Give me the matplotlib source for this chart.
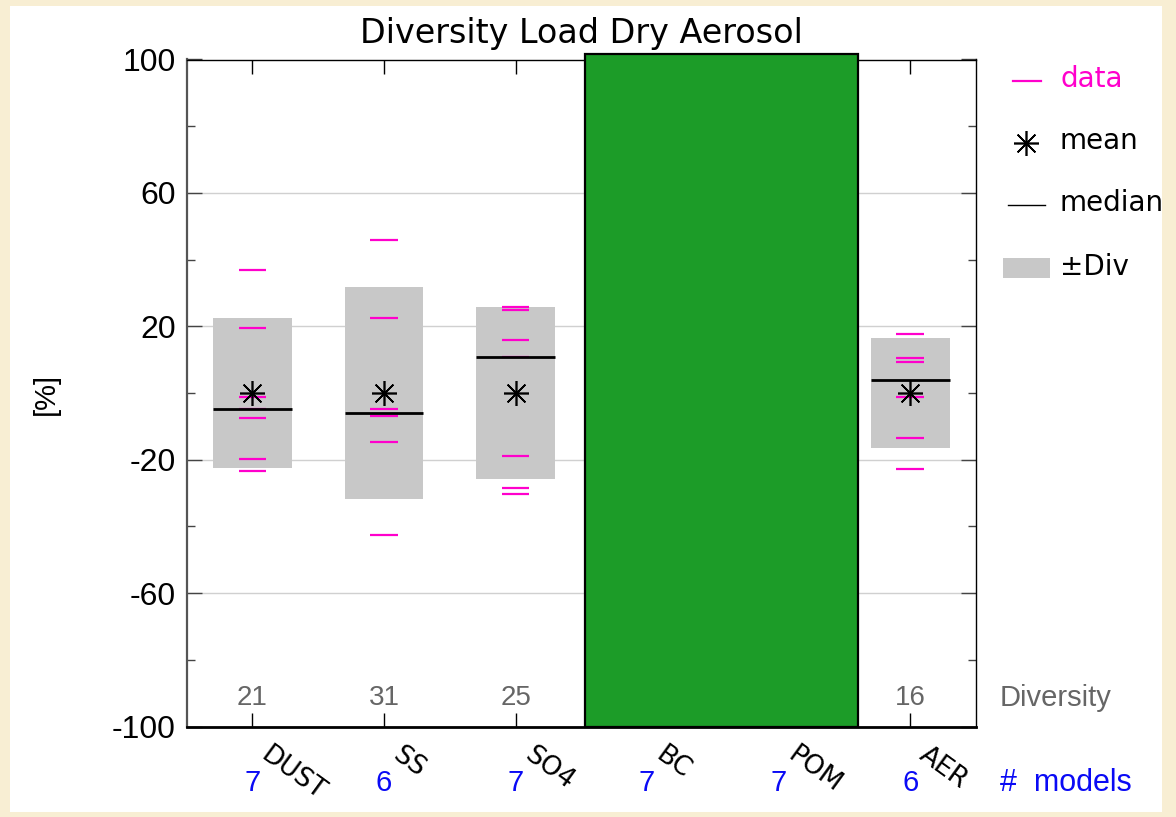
import numpy as np
import matplotlib
matplotlib.use("Agg")
import matplotlib.pyplot as plt
from matplotlib.patches import Rectangle
from matplotlib.lines import Line2D

# ---------------- data ----------------
categories = ['DUST', 'SS', 'SO4', 'BC', 'POM', 'AER']
n_models = [7, 6, 7, 7, 7, 6]
shown_idx = [0, 1, 2, 5]            # categories whose boxes are visible
diversity_labels = [21, 31, 25, 16]  # printed diversity numbers
box_div = [22.4, 31.7, 25.9, 16.5]   # half height of grey ±Div boxes

dust_data = [36.8, 19.4, -1.3, -4.7, -7.4, -19.9, -23.3]
ss_data = [46.0, 22.6, -4.7, -7.0, -14.6, -42.5]
so4_data = [25.9, 24.8, 15.8, 10.9, -18.8, -28.4, -30.2]
aer_data = [17.6, 10.6, 9.2, -1.2, -13.4, -22.8]
series = [dust_data, ss_data, so4_data, aer_data]

yticks_major = [-100, -60, -20, 20, 60, 100]
yticks_minor = [-80, -40, 0, 40, 80]

# ---------------- figure ----------------
W, H = 1176, 817
fig = plt.figure(figsize=(W / 100, H / 100), dpi=100, facecolor='#F8EED3')

def fx(px):
    return px / W

def fy(py):
    return 1 - py / H

# white page
fig.patches.append(Rectangle((fx(10), fy(812)), fx(1152), 806 / H, transform=fig.transFigure,
                             facecolor='white', edgecolor='none', zorder=-5))

ax = fig.add_axes([fx(186.7), fy(726.5), fx(976 - 186.7), (726.5 - 59.5) / H])
ax.set_zorder(1)
ax.set_facecolor('white')
ax.set_xlim(0.5, 6.5)
ax.set_ylim(-100, 100)

MAG = '#FF00CC'
GREY = '#C8C8C8'

for k, idx in enumerate(shown_idx):
    x = idx + 1
    d = np.array(series[k])
    m = d.mean()
    med = np.median(d)
    ax.add_patch(Rectangle((x - 0.3, m - box_div[k]), 0.6, 2 * box_div[k],
                           facecolor=GREY, edgecolor='none', zorder=2))
    for v in d:
        ax.plot([x - 0.105, x + 0.105], [v, v], color=MAG, lw=1.6, zorder=3,
                solid_capstyle='butt')
    ax.plot([x - 0.3, x + 0.3], [med, med], color='black', lw=2.0, zorder=4,
            solid_capstyle='butt')
    ax.plot([x], [m], marker=(8, 2, 0), ms=18, color='black', mew=1.2, zorder=5)
    ax.text(x, -91.4, str(diversity_labels[k]), ha='center', va='center',
            fontsize=20, color='#666666', family='Liberation Sans', zorder=6)

# green block covering BC and POM
ax.add_patch(Rectangle((3.53, -100), 2.07, 201.6, facecolor='#1C9C28',
                       edgecolor='black', lw=1.6, zorder=10, clip_on=False))

# grid, ticks
ax.set_yticks(yticks_major)
ax.set_yticks(yticks_minor, minor=True)
ax.set_yticklabels([str(t) for t in yticks_major], fontsize=23, family='Liberation Sans')
ax.grid(axis='y', which='major', color='#D0D0D0', lw=1.0, zorder=1)
ax.set_axisbelow(True)
ax.set_xticks([i + 1 for i in range(len(categories))])
ax.set_xticklabels([])
ax.tick_params(axis='y', which='major', direction='in', length=11, width=1.0,
               left=True, right=True, pad=8, color='#444444')
ax.tick_params(axis='y', which='minor', direction='in', length=6, width=1.0,
               left=True, right=True, color='#444444')
ax.tick_params(axis='x', which='major', direction='in', length=10, width=1.0,
               top=True, bottom=True)
for s in ['top', 'right']:
    ax.spines[s].set_linewidth(1.0)
ax.spines['left'].set_linewidth(1.6)
ax.spines['left'].set_color('#555555')
ax.spines['bottom'].set_linewidth(2.0)

# title and labels
fig.text(fx(581), fy(34), 'Diversity Load Dry Aerosol', ha='center', va='center',
         fontsize=24, family='DejaVu Sans')
fig.text(fx(46), fy(394), '[%]', rotation=90, ha='center', va='center',
         fontsize=21, family='Liberation Sans')

# category labels and model counts
for i, (c, n) in enumerate(zip(categories, n_models)):
    xd = i + 1
    xp = 186.7 + (xd - 0.5) * (789.3 / 6)
    fig.text(fx(xp + 19), fy(742), c, rotation=-36, rotation_mode='anchor',
             ha='left', va='top', fontsize=19, family='DejaVu Sans')
    fig.text(fx(xp), fy(783), str(n), ha='center', va='center', fontsize=21,
             color='#0A0AF5', family='Liberation Sans')

fig.text(fx(1000), fy(698), 'Diversity', ha='left', va='center', fontsize=21,
         color='#666666', family='Liberation Sans')
fig.text(fx(1000), fy(783), '#  models', ha='left', va='center', fontsize=22,
         color='#0A0AF5', family='Liberation Sans')

# legend (manual)
fig.lines.append(Line2D([fx(1013), fx(1041)], [fy(81), fy(81)], transform=fig.transFigure,
                        color=MAG, lw=1.6))
fig.text(fx(1060), fy(79), 'data', ha='left', va='center', fontsize=20, color=MAG,
         family='DejaVu Sans')
fig.lines.append(Line2D([fx(1026)], [fy(143)], transform=fig.transFigure, marker=(8, 2, 0),
                        ms=18, mew=1.2, color='black', linestyle='none'))
fig.text(fx(1060), fy(141), 'mean', ha='left', va='center', fontsize=20, family='DejaVu Sans')
fig.lines.append(Line2D([fx(1008), fx(1045)], [fy(205), fy(205)], transform=fig.transFigure,
                        color='black', lw=1.0))
fig.text(fx(1060), fy(203), 'median', ha='left', va='center', fontsize=20, family='DejaVu Sans')
fig.patches.append(Rectangle((fx(1003), fy(278)), fx(47), 20 / H, transform=fig.transFigure,
                             facecolor=GREY, edgecolor='none'))
fig.text(fx(1060), fy(267), '±Div', ha='left', va='center', fontsize=20, family='DejaVu Sans')

fig.savefig('out.png', dpi=100, facecolor=fig.get_facecolor())
